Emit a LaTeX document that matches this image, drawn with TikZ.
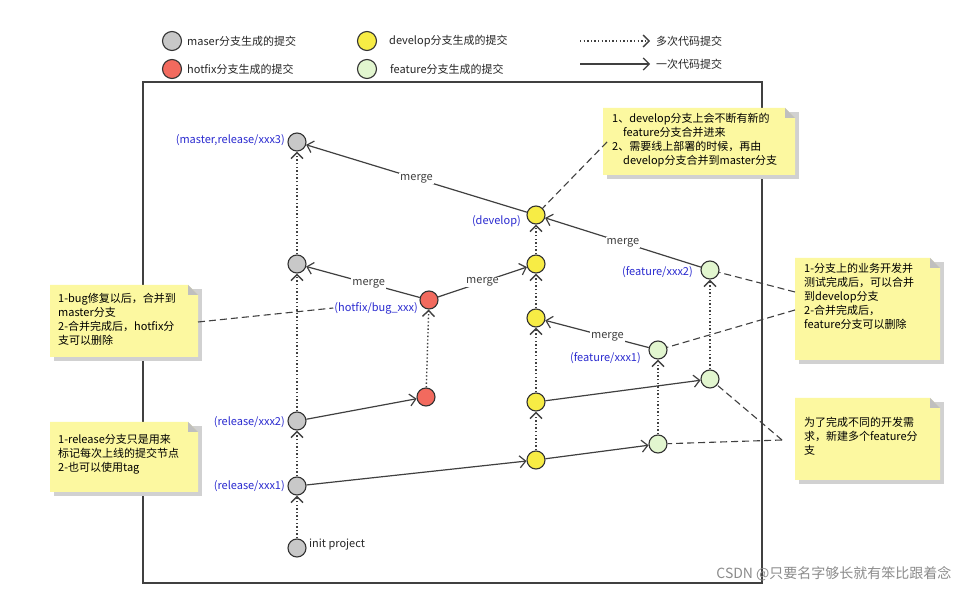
\documentclass[tikz,border=0pt]{standalone}
\usepackage{fontspec}
\setmainfont{Noto Sans CJK SC}
\usetikzlibrary{arrows.meta}
\definecolor{mgray}{HTML}{C8C8C8}
\definecolor{hred}{HTML}{F26A5E}
\definecolor{dyel}{HTML}{F7EC45}
\definecolor{fgrn}{HTML}{E2F6CF}
\definecolor{noteY}{HTML}{FCF8A0}
\definecolor{lblue}{HTML}{2B2BD0}
\tikzset{
 c/.style={circle,draw=black!80,line width=1.1pt,minimum size=18pt,inner sep=0pt},
 m/.style={c,fill=mgray}, h/.style={c,fill=hred}, d/.style={c,fill=dyel}, f/.style={c,fill=fgrn},
 one/.style={draw=black!75,line width=1.2pt,-{Straight Barb[length=6pt,width=12pt]}},
 many/.style={one,line width=1.4pt,dash pattern=on 1.4pt off 2.2pt},
 dsh/.style={draw=black!75,line width=1.1pt,dash pattern=on 7pt off 4pt},
 lbl/.style={text=lblue,font=\fontsize{11}{13}\selectfont,inner sep=1pt},
 mg/.style={fill=white,font=\fontsize{11}{13}\selectfont,text=black!75,inner sep=1pt},
 txt/.style={font=\fontsize{11}{13}\selectfont,text=black!85,inner sep=0pt},
 ntext/.style={font=\fontsize{11}{14}\selectfont,align=left,inner sep=0pt,anchor=north west},
}
\newcommand{\notebox}[5]{% name, x1,y1,x2,y2
 \fill[black!18] (#2+4,#3+4) rectangle (#4+4,#5+4);
 \fill[noteY] (#2,#3) -- (#4-10,#3) -- (#4,#3+10) -- (#4,#5) -- (#2,#5) -- cycle;
 \fill[black!25] (#4-10,#3) -- (#4-10,#3+10) -- (#4,#3+10) -- cycle;
 \coordinate (#1) at (#2,#3);}
\begin{document}
\begin{tikzpicture}[x=1pt,y=-1pt]
\useasboundingbox[fill=white] (0,0) rectangle (970,593);
% legend
\node[m,minimum size=19pt] (lg1) at (172,41) {};
\node[txt,anchor=west] (lt1) at (187,41) {maser分支生成的提交};
\node[h,minimum size=19pt] (lg2) at (172,69) {};
\node[txt,anchor=west] (lt2) at (187,69) {hotfix分支生成的提交};
\node[d,minimum size=19pt] (lg3) at (367,41) {};
\node[txt,anchor=west] (lt3) at (389,41) {develop分支生成的提交};
\node[f,minimum size=19pt] (lg4) at (367,69) {};
\node[txt,anchor=west] (lt4) at (390,69) {feature分支生成的提交};
\coordinate (la1) at (580,41); \coordinate (lb1) at (650,41);
\coordinate (la2) at (580,64); \coordinate (lb2) at (650,64);
\draw[many] (la1) -- (lb1);
\draw[one] (la2) -- (lb2);
\node[txt,anchor=west] (lt5) at (656,41) {多次代码提交};
\node[txt,anchor=west] (lt6) at (656,64) {一次代码提交};
% frame
\draw[black!75,line width=1.5pt] (143,82) rectangle (762,583);
% nodes
\node[m] (init) at (297,548) {};
\node[m] (r1) at (297,486) {};
\node[m] (r2) at (297,421) {};
\node[m] (m3) at (297,264) {};
\node[m] (mt) at (297,142) {};
\node[h] (h1) at (426,397) {};
\node[h] (h2) at (429,300) {};
\node[d] (d1) at (536,460) {};
\node[d] (d2) at (536,402) {};
\node[d] (d3) at (536,318) {};
\node[d] (d4) at (536,264) {};
\node[d] (d5) at (536,215) {};
\node[f] (f1) at (658,444) {};
\node[f] (f2) at (710,379) {};
\node[f] (f3) at (658,350) {};
\node[f] (f4) at (710,270) {};
% labels
\node[txt,anchor=west] (lin) at (309,545) {init project};
\node[lbl,anchor=east] (lr1) at (286,486) {(release/xxx1)};
\node[lbl,anchor=east] (lr2) at (286,422) {(release/xxx2)};
\node[lbl,anchor=east] (lmt) at (286,140) {(master,release/xxx3)};
\node[lbl,anchor=east] (lde) at (522,221) {(develop)};
\node[lbl,anchor=east] (lf2) at (694,272) {(feature/xxx2)};
\node[lbl,anchor=east] (lf1) at (642,358) {(feature/xxx1)};
% edges
\draw[many] (init) -- (r1);
\draw[many] (r1) -- (r2);
\draw[many] (r2) -- (m3);
\draw[many] (m3) -- (mt);
\draw[one] (r2) -- (h1);
\draw[many] (h1) -- (h2);
\draw[one] (h2) -- node[mg,pos=0.45]{merge} (m3);
\draw[one] (h2) -- node[mg,pos=0.5]{merge} (d4);
\draw[one] (r1) -- (d1);
\draw[one] (d1) -- (f1);
\draw[many] (d1) -- (d2);
\draw[one] (d2) -- (f2);
\draw[many] (d2) -- (d3);
\draw[many] (d3) -- (d4);
\draw[many] (d4) -- (d5);
\draw[many] (f1) -- (f3);
\draw[one] (f3) -- node[mg,pos=0.4]{merge} (d3);
\draw[many] (f2) -- (f4);
\draw[one] (f4) -- node[mg,pos=0.5]{merge} (d5);
\draw[one] (d5) -- node[mg,pos=0.5]{merge} (mt);
\node[lbl,anchor=east,fill=white] (lh) at (419,308) {(hotfix/bug\_xxx)};
% notes
\notebox{n1}{603}{108}{795}{175}
\node[ntext] (t1) at (612,113) {1、develop分支上会不断有新的\\\hspace*{1em}feature分支合并进来\\2、需要线上部署的时候，再由\\\hspace*{1em}develop分支合并到master分支};
\notebox{n2}{50}{285}{198}{357}
\node[ntext] (t2) at (58,293) {1-bug修复以后，合并到\\master分支\\2-合并完成后，hotfix分\\支可以删除};
\notebox{n3}{50}{422}{198}{492}
\node[ntext] (t3) at (58,434) {1-release分支只是用来\\标记每次上线的提交节点\\2-也可以使用tag};
\notebox{n4}{795}{258}{940}{360}
\node[ntext] (t4) at (804,263) {1-分支上的业务开发并\\测试完成后，可以合并\\到develop分支\\2-合并完成后，\\feature分支可以删除};
\notebox{n5}{795}{398}{940}{480}
\node[ntext] (t5) at (804,417) {为了完成不同的开发需\\求，新建多个feature分\\支};
% dashed connectors
\coordinate (e1) at (607,142); \draw[dsh] (e1) -- (d5);
\coordinate (e2) at (198,322); \draw[dsh] (e2) -- (lh.west);
\coordinate (e4a) at (795,292); \draw[dsh] (e4a) -- (f4);
\coordinate (e4b) at (795,310); \draw[dsh] (e4b) -- (f3);
\coordinate (e5a) at (782,440); \draw[dsh] (e5a) -- (f1);
\coordinate (e5b) at (782,440); \draw[dsh] (e5b) -- (f2);
% watermark
\node[font=\fontsize{14}{16}\selectfont,text=black!45,anchor=east] (wm) at (955,574) {CSDN @只要名字够长就有笨比跟着念};
\end{tikzpicture}
\end{document}
